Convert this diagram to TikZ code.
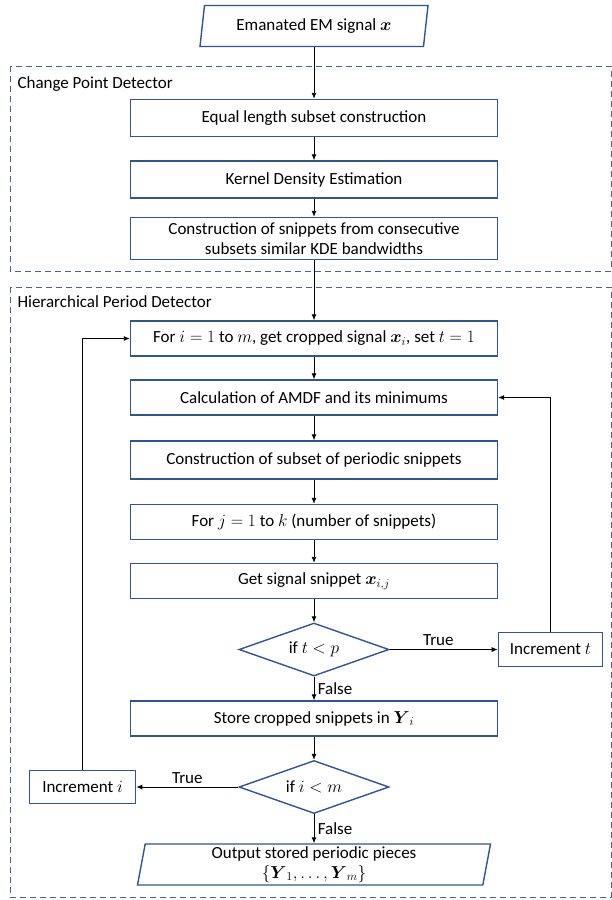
\documentclass[tikz,border=0pt]{standalone}
\usepackage{fontspec}
\setmainfont{Carlito}
\usepackage{amsmath}
\usetikzlibrary{arrows.meta,positioning,shapes.geometric}
\definecolor{boxblue}{HTML}{2F5597}
\definecolor{groupline}{HTML}{4A6491}

\begin{document}
\begin{tikzpicture}[x=1pt,y=-1pt,
  font=\fontsize{17}{20}\selectfont,
  proc/.style={draw=boxblue,line width=1.4pt,align=center,minimum width=367pt,
    minimum height=35pt,inner xsep=2pt,inner ysep=1pt},
  io/.style={trapezium,trapezium left angle=73,trapezium right angle=107,
    trapezium stretches body,draw=boxblue,line width=1.4pt,align=center,
    minimum height=41pt,inner xsep=2pt,inner ysep=0pt},
  dec/.style={diamond,draw=boxblue,line width=1.4pt,aspect=2.8,
    minimum width=150pt,minimum height=53pt,inner sep=0pt},
  group/.style={draw=groupline,dash pattern=on 6pt off 4pt,line width=0.9pt},
  a/.style={-{Latex[length=6pt,width=5pt]},line width=0.9pt}
]
\useasboundingbox (0,0) rectangle (612,900);

% detector frames
\draw[group] (10,66) rectangle (611,271);
\node[anchor=west] (cpdlabel) at (14,84) {Change Point Detector};
\draw[group] (10,287) rectangle (611,897);
\node[anchor=west] (hpdlabel) at (14,302) {Hierarchical Period Detector};

% main column
\node[io,minimum width=228pt] (emsig) at (314,26) {Emanated EM signal $\boldsymbol{x}$};
\node[proc,minimum height=37pt] (eqlen) at (314,118) {Equal length subset construction};
\node[proc,minimum height=37pt] (kde) at (314,179.5) {Kernel Density Estimation};
\node[proc,minimum height=42pt] (snip) at (314,238.5) {Construction of snippets from consecutive\\subsets similar KDE bandwidths};
\node[proc] (fori) at (314,338.5) {For $i=1$ to $m$, get cropped signal $\boldsymbol{x}_i$, set $t=1$};
\node[proc] (amdf) at (314,397.5) {Calculation of AMDF and its minimums};
\node[proc,minimum height=38pt] (persub) at (314,460) {Construction of subset of periodic snippets};
\node[proc] (forj) at (314,522) {For $j=1$ to $k$ (number of snippets)};
\node[proc] (getsnip) at (314,581) {Get signal snippet $\boldsymbol{x}_{i,j}$};
\node[dec] (dect) at (314,649.5) {if $t<p$};
\node[proc,minimum width=104pt,minimum height=34pt,right=108pt of dect] (inct) {Increment $t$};
\node[proc] (store) at (314,718.5) {Store cropped snippets in $\boldsymbol{Y}_i$};
\node[dec] (deci) at (314,787) {if $i<m$};
\node[proc,minimum width=106pt,minimum height=33pt,left=102pt of deci] (inci) {Increment $i$};
\node[io,trapezium left angle=78,trapezium right angle=102,minimum width=353pt]
  (out) at (314,864.5) {Output stored periodic pieces\\$\{\boldsymbol{Y}_1,\ldots,\boldsymbol{Y}_m\}$};

\draw[a] (emsig.south) -- (emsig.south |- eqlen.north);
\draw[a] (eqlen) -- (kde);
\draw[a] (kde) -- (snip);
\draw[a] (snip) -- (fori);
\draw[a] (fori) -- (amdf);
\draw[a] (amdf) -- (persub);
\draw[a] (persub) -- (forj);
\draw[a] (forj) -- (getsnip);
\draw[a] (getsnip) -- (dect);
\draw[a] (dect) -- node[above,pos=0.45]{True} (inct);
\draw[a] (inct) |- (amdf);
\draw[a] (dect) -- node[right]{False} (store);
\draw[a] (store) -- (deci);
\draw[a] (deci) -- node[above]{True} (inci);
\draw[a] (inci) |- (fori);
\draw[a] (deci.south) -- node[right]{False} (deci.south |- out.north);
\end{tikzpicture}
\end{document}
